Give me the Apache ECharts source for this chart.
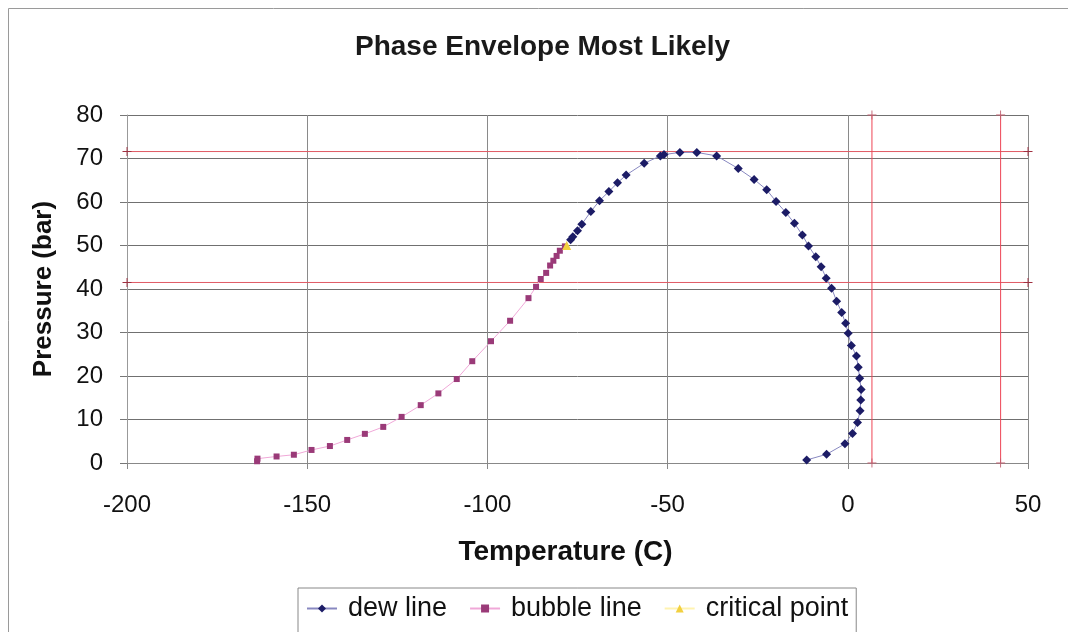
<!DOCTYPE html>
<html>
<head>
<meta charset="utf-8">
<script src="https://cdn.jsdelivr.net/npm/echarts@6/dist/echarts.min.js"></script>
<style>html,body{margin:0;padding:0;background:#fff}#c{width:1068px;height:632px}</style>
</head>
<body>
<div id="c"></div>
<script>
// Temperature (C), Pressure (bar)
const dewLine = [
  [-76.9, 51.3], [-76.3, 52.0], [-75.0, 53.4], [-73.8, 54.9], [-71.3, 57.8], [-68.9, 60.3],
  [-66.3, 62.4], [-63.9, 64.4], [-61.5, 66.2], [-56.5, 68.9], [-52.0, 70.6], [-51.0, 70.9],
  [-46.6, 71.4], [-41.9, 71.4], [-36.4, 70.6], [-30.4, 67.7], [-26.0, 65.2], [-22.5, 62.8],
  [-19.9, 60.1], [-17.2, 57.6], [-14.8, 55.1], [-12.6, 52.4], [-10.9, 49.9], [-8.9, 47.4],
  [-7.4, 45.1], [-6.0, 42.5], [-4.5, 40.2], [-3.1, 37.2], [-1.7, 34.6], [-0.6, 32.1],
  [0.1, 29.8], [1.0, 27.0], [2.4, 24.6], [2.9, 22.0], [3.3, 19.5], [3.7, 16.9],
  [3.6, 14.5], [3.4, 12.0], [2.7, 9.3], [1.3, 6.8], [-0.8, 4.4], [-5.9, 2.0], [-11.4, 0.7]
];
const bubbleLine = [
  [-163.9, 0.4], [-163.8, 1.0], [-158.5, 1.5], [-153.7, 1.9], [-148.8, 3.0], [-143.7, 3.9],
  [-138.9, 5.3], [-134.0, 6.7], [-128.9, 8.3], [-123.8, 10.6], [-118.5, 13.3], [-113.6, 16.0],
  [-108.5, 19.3], [-104.2, 23.4], [-99.0, 28.0], [-93.7, 32.7], [-88.6, 37.9], [-86.5, 40.5],
  [-85.2, 42.3], [-83.7, 43.7], [-82.6, 45.4], [-81.7, 46.5], [-80.8, 47.6], [-79.9, 48.8],
  [-78.5, 49.8]
];
const criticalPoint = [[-78.0, 50.0]];
const refPressures = [71.6, 41.5];
const refTemps = [6.7, 42.4];
const xTicks = [-200, -150, -100, -50, 0, 50];
const yTicks = [0, 10, 20, 30, 40, 50, 60, 70, 80];

const xMin = xTicks[0], xMax = xTicks[xTicks.length - 1];
const yMin = yTicks[0], yMax = yTicks[yTicks.length - 1];
const plusSym = 'path://M0,4.5h10v1h-10z M4.5,0h1v10h-1z';

const refSeries = [];
refPressures.forEach(function (p) {
  refSeries.push({
    type: 'line', data: [[xMin, p], [xMax, p]], silent: true, z: 1,
    symbol: plusSym, symbolSize: 9, itemStyle: { color: '#a03040' },
    lineStyle: { color: '#e05a64', width: 1 }, animation: false
  });
});
refTemps.forEach(function (t) {
  refSeries.push({
    type: 'line', data: [[t, yMin], [t, yMax]], silent: true, z: 1,
    symbol: plusSym, symbolSize: 9, itemStyle: { color: '#c06070' },
    lineStyle: { color: '#ee4455', width: 1 }, animation: false
  });
});

const chart = echarts.init(document.getElementById('c'));
const fontFam = '"Liberation Sans", Arial, sans-serif';
chart.setOption({
  animation: false,
  textStyle: { fontFamily: fontFam },
  title: {
    text: 'Phase Envelope Most Likely', left: 350, top: 28,
    textStyle: { fontSize: 28, fontWeight: 'bold', color: '#1a1a1a', fontFamily: fontFam }
  },
  graphic: [{
    type: 'rect', shape: { x: 8.5, y: 8.5, width: 1200, height: 800 },
    style: { fill: 'none', stroke: '#9a9a9a', lineWidth: 1 }, silent: true
  }],
  grid: { left: 127, right: 40, top: 115, bottom: 169, containLabel: false },
  legend: {
    left: 298, top: 588, padding: [7, 8, 20, 8],
    borderColor: '#888', borderWidth: 1,
    itemWidth: 30, itemHeight: 10, itemGap: 22,
    textStyle: { fontSize: 27, color: '#111', fontFamily: fontFam, padding: [0, 0, 0, 6] },
    data: ['dew line', 'bubble line', 'critical point']
  },
  xAxis: {
    type: 'value', min: xMin, max: xMax, interval: 50,
    name: 'Temperature (C)', nameLocation: 'middle', nameGap: 75,
    nameTextStyle: { fontSize: 28, fontWeight: 'bold', color: '#111', padding: [0, 24, 0, 0] },
    axisLine: { onZero: false, lineStyle: { color: '#888' } },
    axisTick: { show: true, length: 6, lineStyle: { color: '#888' } },
    axisLabel: { fontSize: 24, color: '#111', margin: 30 },
    splitLine: { show: true, lineStyle: { color: '#8a8a8a', width: 1 } }
  },
  yAxis: {
    type: 'value', min: yMin, max: yMax, interval: 10,
    name: 'Pressure (bar)', nameLocation: 'middle', nameGap: 70, nameRotate: 90,
    nameTextStyle: { fontSize: 26, fontWeight: 'bold', color: '#111' },
    axisLine: { show: true, onZero: false, lineStyle: { color: '#999' } },
    axisTick: { show: true, length: 7, lineStyle: { color: '#777' } },
    axisLabel: { fontSize: 24, color: '#111', margin: 24 },
    splitLine: { show: true, lineStyle: { color: '#707070', width: 1 } }
  },
  series: refSeries.concat([
    {
      name: 'dew line', type: 'line', data: dewLine, z: 3,
      symbol: 'diamond', symbolSize: 9,
      itemStyle: { color: '#1c1c66' },
      lineStyle: { color: '#8888c0', width: 1 }
    },
    {
      name: 'bubble line', type: 'line', data: bubbleLine, z: 3,
      symbol: 'rect', symbolSize: 6,
      itemStyle: { color: '#9a3a78' },
      lineStyle: { color: '#f0a8d8', width: 1 }
    },
    {
      name: 'critical point', type: 'line', data: criticalPoint, z: 4,
      symbol: 'triangle', symbolSize: 9,
      itemStyle: { color: '#f2d040' },
      lineStyle: { color: '#fff3b0', width: 1 }
    }
  ])
});
</script>
</body>
</html>
